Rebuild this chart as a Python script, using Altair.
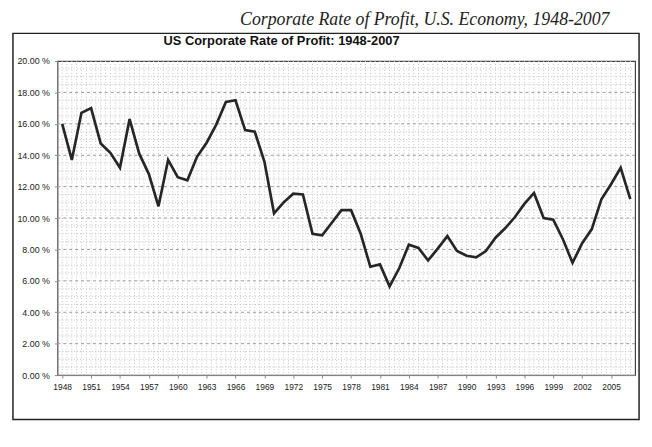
import altair as alt
import pandas as pd

# ---- data ----
years = list(range(1948, 2008))
profit_rate = [16.0, 13.7, 16.7, 17.0, 14.75, 14.15, 13.2, 16.3, 14.1, 12.8,
               10.75, 13.7, 12.6, 12.4, 13.9, 14.8, 15.95, 17.4, 17.5, 15.6,
               15.5, 13.6, 10.3, 11.0, 11.55, 11.5, 9.0, 8.9, 9.7, 10.5,
               10.5, 9.0, 6.9, 7.05, 5.65, 6.8, 8.3, 8.1, 7.3, 8.05,
               8.85, 7.9, 7.6, 7.5, 7.9, 8.75, 9.35, 10.05, 10.9, 11.6,
               10.0, 9.9, 8.65, 7.15, 8.4, 9.3, 11.2, 12.15, 13.2, 11.2]
x_tick_years = list(range(1948, 2006, 3))
y_tick_values = list(range(0, 21, 2))

caption = "Corporate Rate of Profit, U.S. Economy, 1948-2007"
chart_title = "US Corporate Rate of Profit: 1948-2007"

# ---- tables ----
df = pd.DataFrame({"year": years, "rate": profit_rate})
minor_vals = [v / 2 for v in range(1, 40) if v % 4 != 0]
minor_y = pd.DataFrame({"rate": minor_vals})
minor_y["year"] = 1948
major_y = pd.DataFrame({"rate": y_tick_values[1:-1]})
major_y["year"] = 1948
minor_x = pd.DataFrame({"year": [1947.5 + 0.5 * k for k in range(1, 120)]})
minor_x["rate"] = 0

W, H = 585, 318
x_scale = alt.Scale(domain=[1947.5, 2007.5], nice=False, zero=False)
y_scale = alt.Scale(domain=[0, 20], nice=False)

x_axis = alt.Axis(values=x_tick_years, format="d", grid=False, labelFontSize=8.5,
                  labelPadding=5, tickSize=3, labelFont="Liberation Sans",
                  labelColor="#222", domainColor="#888", tickColor="#888", title=None)
y_axis = alt.Axis(values=y_tick_values, labelExpr="format(datum.value, '.2f') + ' %'",
                  grid=False, labelFontSize=9, labelPadding=5, tickSize=3,
                  labelFont="Liberation Sans", labelColor="#222",
                  domainColor="#888", tickColor="#888", title=None)

X = alt.X("year:Q", scale=x_scale, axis=x_axis)
Y = alt.Y("rate:Q", scale=y_scale, axis=y_axis)

vgrid = alt.Chart(minor_x).mark_rule(color="#c4c4c4", strokeWidth=1, strokeDash=[1, 2]).encode(x=X)
hgrid_minor = alt.Chart(minor_y).mark_rule(color="#c4c4c4", strokeWidth=1, strokeDash=[1, 2]).encode(y=Y)
hgrid_major = alt.Chart(major_y).mark_rule(color="#9a9a9a", strokeWidth=1, strokeDash=[3, 3]).encode(y=Y)

line = alt.Chart(df).mark_line(color="#262626", strokeWidth=2.7).encode(x=X, y=Y)

frame = alt.Chart(pd.DataFrame({"k": [0]})).mark_rect(
    filled=False, stroke="#222", strokeWidth=1.5).encode(
    x=alt.value(-45), x2=alt.value(589), y=alt.value(-28), y2=alt.value(363))

cap = alt.Chart(pd.DataFrame({"t": [caption]})).mark_text(
    font="Liberation Serif", fontStyle="italic", fontSize=18, align="center",
    baseline="alphabetic", color="#222").encode(
    x=alt.value(372), y=alt.value(-36), text="t:N")

ttl = alt.Chart(pd.DataFrame({"t": [chart_title]})).mark_text(
    font="Liberation Sans", fontWeight="bold", fontSize=13,
    align="center", baseline="alphabetic", color="#111").encode(
    x=alt.value(227), y=alt.value(-16), text="t:N")

chart = alt.layer(vgrid, hgrid_minor, hgrid_major, line, frame, cap, ttl).properties(
    width=W, height=H,
    autosize=alt.AutoSizeParams(type="none"),
    padding={"left": 50, "top": 51, "right": 9, "bottom": 60},
    background="white",
).configure_view(stroke="#444", strokeWidth=1.2)

chart.save("out.html", embed_options={"renderer": "svg", "actions": False})
